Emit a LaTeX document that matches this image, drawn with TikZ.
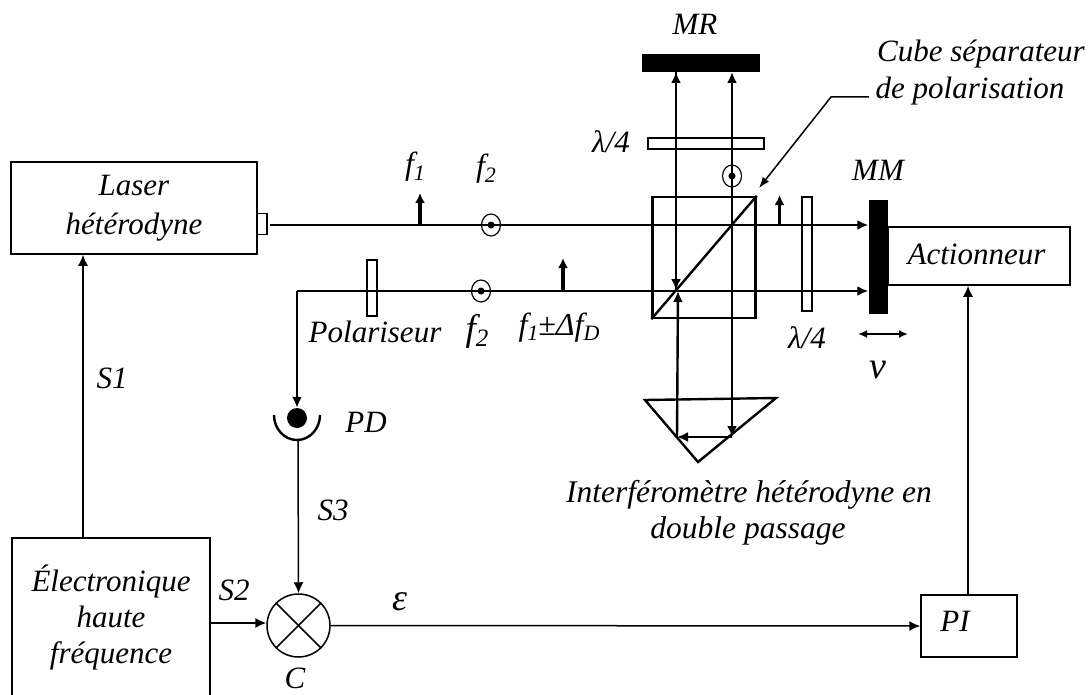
\documentclass[tikz,border=0pt]{standalone}
\usepackage{fontspec}
\setmainfont{Liberation Serif}
\usetikzlibrary{arrows.meta}
\newcommand{\lowtxt}[2]{\raisebox{-0.17em}{\fontsize{#1}{#1}\selectfont #2}}
\tikzset{
    txt/.style={anchor=base,inner sep=0pt,font=\fontsize{31}{36}\selectfont\itshape},
    smalltxt/.style={txt,font=\fontsize{32}{36}\selectfont\itshape},
    boxnode/.style={draw,line width=1.5pt,inner sep=0pt,align=center,font=\fontsize{31}{36}\selectfont\itshape},
    sig/.style={line width=1.5pt,-{Latex[length=11pt,width=10pt]}},
    beamtip/.style={line width=2.4pt,-{Latex[length=11pt,width=10pt]}},
    pol/.style={line width=3.2pt,-{Latex[length=10pt,width=10pt]}},
    plate/.style={draw,line width=1.7pt}
}
\begin{document}
\begin{tikzpicture}[x=1pt,y=-1pt]
    \useasboundingbox (0,0) rectangle (1091,695);
    % Boxes
    \node[boxnode,minimum width=246pt,minimum height=92pt] (laser) at (134,208) {Laser\\[3pt]hétérodyne};
    \node[boxnode,minimum width=198pt,minimum height=158pt] (elec) at (111,617) {Électronique\\haute\\fréquence};
    \node[boxnode,minimum width=182pt,minimum height=58pt] (act) at (979,256) {};
    \node[boxnode,minimum width=96pt,minimum height=62pt] (pi) at (969,626) {};
    \node[draw,circle,line width=1.5pt,minimum size=63pt,inner sep=0pt] (mix) at (298.5,625.5) {};
    \draw[line width=1.5pt] (mix.45) -- (mix.225); % Cross
    \draw[line width=1.5pt] (mix.135) -- (mix.315);
    % Laser output port
    \node[draw,line width=1.5pt,minimum width=10pt,minimum height=21pt,inner sep=0pt] (port) at (262,224) {};
    % Mirrors
    \node[fill=black,minimum width=118pt,minimum height=18pt,inner sep=0pt] (mr) at (701,63) {};
    \node[fill=black,minimum width=19pt,minimum height=114pt,inner sep=0pt] (mm) at (878,257) {};
    % Wave plates and polariser
    \node[plate,minimum width=116pt,minimum height=11pt,inner sep=0pt] (plateup) at (706,143.5) {};
    \node[plate,minimum width=10pt,minimum height=114pt,inner sep=0pt] (plateright) at (807,254) {};
    \node[plate,minimum width=10pt,minimum height=56pt,inner sep=0pt] (polar) at (372,288) {};
    % Separating cube
    \node[draw,line width=2.4pt,minimum width=103pt,minimum height=121pt,inner sep=0pt] (cube) at (704,257.5) {};
    \draw[line width=2.4pt] (cube.south west) -- (cube.north east); % Diagonal
    % Corner prism
    \coordinate (prisml) at (645,400);
    \coordinate (prismr) at (776,398);
    \coordinate (prismb) at (698,462);
    \draw[line width=2.4pt] (prisml) -- (prismr) -- (prismb) -- cycle;
    % Photodiode
    \node[fill=black,circle,minimum size=20pt,inner sep=0pt] (pd) at (297,418) {};
    \draw[line width=2.4pt] (274,415) arc[start angle=180, end angle=0, x radius=23, y radius=25];
    \coordinate (pdout) at (298,440);
    % Beam points
    \coordinate (beamstart) at (270,225);
    \coordinate (beamend) at (mm.west |- beamstart);
    \coordinate (backend) at (mm.west |- 0,291);
    \coordinate (backleft) at (297,291);
    \coordinate (lefttop) at (676,72);
    \coordinate (leftmid) at (676,290);
    \coordinate (righttop) at (732,72);
    \coordinate (rightmid) at (732,225);
    \coordinate (rightlow) at (732,437);
    \coordinate (leftlow) at (677,437);
    \coordinate (leftup) at (678,291);
    % Beams
    \draw[beamtip] (beamstart) -- (beamend);
    \draw[beamtip] (backleft) -- (backend);
    \draw[beamtip] (backleft) -- (pd.north);
    \draw[beamtip] (leftmid) -- (lefttop);
    \draw[beamtip] (lefttop) -- (leftmid);
    \draw[beamtip] (rightmid) -- (righttop);
    \draw[beamtip] (rightmid) -- (rightlow);
    \draw[beamtip] (rightlow) -- (leftlow);
    \draw[beamtip] (leftlow) -- (leftup);
    % Polarisation states
    \draw[pol] (420,225) -- (420,193);
    \draw[pol] (563,291) -- (563,258);
    \draw[pol] (779.5,225) -- (779.5,195);
    \foreach \px/\py in {491/225,481/291,732/176}{
        \draw[line width=1.2pt] (\px,\py) ellipse (9.5 and 11);
        \fill (\px,\py) circle (3.5);
    }
    % Signals
    \draw[sig] (elec.north -| 83,0) -- (laser.south -| 83,0);
    \draw[sig] (elec.east |- 0,623) -- (mix.west |- 0,623);
    \draw[sig] (pdout) -- (mix.north);
    \draw[sig] (mix.east) -- (pi.west);
    \draw[sig] (pi.north -| 968,0) -- (act.south -| 968,0);
    % Cube label leader
    \coordinate (leadstart) at (869,97);
    \draw[line width=1.5pt,-{Latex[length=11pt,width=8pt]}] (leadstart) -- (831,97) -- (759,188);
    % Mirror motion
    \coordinate (motionl) at (858,334);
    \coordinate (motionr) at (908,334);
    \draw[line width=2.4pt,{Latex[length=9pt,width=8pt]}-{Latex[length=9pt,width=8pt]}] (motionl) -- (motionr);
    % Labels
    \node[txt] (actlabel) at (976.5,264) {Actionneur};
    \node[txt] (pilabel) at (955,631) {PI};
    \node[txt] (mrlabel) at (695,35) {MR};
    \node[txt] (mmlabel) at (878,181) {MM};
    \node[txt] (plateuplabel) at (611,153) {λ/4};
    \node[txt] (platerightlabel) at (807,348) {λ/4};
    \node[txt,anchor=base west] (cubelabela) at (877,62) {Cube séparateur};
    \node[txt,anchor=base west] (cubelabelb) at (875.5,99) {de polarisation};
    \node[smalltxt] (flabela) at (415,175) {f\lowtxt{22}{1}};
    \node[smalltxt] (flabelb) at (486,177) {f\lowtxt{22}{2}};
    \node[txt] (polarlabel) at (375,342) {Polariseur};
    \node[txt,font=\fontsize{37}{37}\selectfont\itshape] (flabelc) at (477,340) {f\lowtxt{25}{2}};
    \node[smalltxt] (flabeld) at (559,335) {f\lowtxt{22}{1}±Δf\lowtxt{22}{D}};
    \node[txt] (pdlabel) at (366,432) {PD};
    \node[txt] (sa) at (112,388) {S1};
    \node[txt] (sb) at (234,600) {S2};
    \node[txt] (sc) at (333,520) {S3};
    \node[txt] (mixlabel) at (295,688) {C};
    \node[txt,font=\fontsize{38}{38}\selectfont\itshape] (errlabel) at (400,610) {ε};
    \node[txt,font=\fontsize{38}{38}\selectfont\itshape] (vlabel) at (878,378) {v};
    \node[txt,font=\fontsize{31.5}{36}\selectfont\itshape] (intera) at (749,502) {Interféromètre hétérodyne en};
    \node[txt,font=\fontsize{31.5}{36}\selectfont\itshape] (interb) at (748,538) {double passage};
\end{tikzpicture}
\end{document}
